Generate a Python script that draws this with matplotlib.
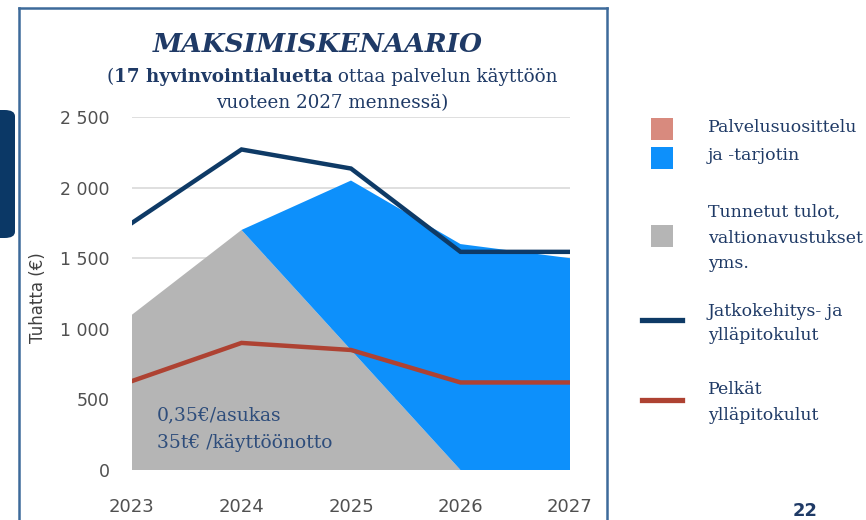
import matplotlib
matplotlib.use("Agg")
import matplotlib.pyplot as plt
from matplotlib.patches import FancyBboxPatch, Rectangle
from matplotlib.lines import Line2D

# ---- data ----
years = [2023, 2024, 2025, 2026, 2027]
tunnetut_tulot = [1100, 1700, 850, 0, 0]        # gray area
palvelusuosittelu = [0, 0, 0, 0, 0]             # salmon (not visible)
tarjotin = [0, 0, 1200, 1600, 1500]             # blue area (stacked)
jatkokehitys = [1750, 2270, 2135, 1545, 1545]   # navy line
pelkat_yllapito = [630, 900, 850, 620, 620]     # red line
y_ticks = [0, 500, 1000, 1500, 2000, 2500]
y_tick_labels = ["0", "500", "1 000", "1 500", "2 000", "2 500"]
x_tick_labels = ["2023", "2024", "2025", "2026", "2027"]

W, H = 866, 520
fig = plt.figure(figsize=(W / 100, H / 100), dpi=100)

def fx(px):
    return px / W

def fy(py):
    return 1 - py / H

NAVY = "#0e3a66"
TEXT_NAVY = "#1f3a66"
GRAY = "#b5b5b5"
BLUE = "#0d90fb"
SALMON = "#d88a7e"
RED = "#ae4232"
TICK_COL = "#505050"

# axes
ax = fig.add_axes([fx(132), fy(470), fx(570) - fx(132), fy(117) - fy(470)])
ax.stackplot(years, tunnetut_tulot, palvelusuosittelu, tarjotin,
             colors=[GRAY, SALMON, BLUE], linewidth=0, zorder=2)
ax.plot(years, pelkat_yllapito, color=RED, lw=3.2, zorder=3, solid_joinstyle="miter")
ax.plot(years, jatkokehitys, color=NAVY, lw=3.2, zorder=4, solid_joinstyle="miter")
ax.set_xlim(years[0], years[-1])
ax.set_ylim(0, 2500)
ax.set_yticks(y_ticks)
ax.set_yticklabels(y_tick_labels)
ax.set_xticks(years)
ax.set_xticklabels(x_tick_labels)
ax.yaxis.grid(True, color="#dcdcdc", lw=1.3, zorder=0)
ax.set_axisbelow(True)
for s in ax.spines.values():
    s.set_visible(False)
ax.tick_params(axis="y", length=0, pad=16, labelsize=12.5, labelcolor=TICK_COL)
ax.tick_params(axis="x", length=0, pad=20, labelsize=13, labelcolor=TICK_COL)
ax.patch.set_alpha(0)

fig.text(fx(38), fy(298), "Tuhatta (€)", rotation=90, ha="center", va="center",
         fontsize=12, color="#404040")

# annotation inside plot
ax.text(fx(157), fy(415), "0,35€/asukas", transform=fig.transFigure, ha="left",
        va="center", fontsize=13.5, color="#2e4d7b", family="DejaVu Serif", zorder=5)
ax.text(fx(157), fy(443), "35t€ /käyttöönotto", transform=fig.transFigure, ha="left",
        va="center", fontsize=13.5, color="#2e4d7b", family="DejaVu Serif", zorder=5)

# frame
frame_col = "#3d6a9a"
fig.add_artist(Line2D([fx(19), fx(19)], [fy(8), fy(525)], color=frame_col, lw=1.8))
fig.add_artist(Line2D([fx(607), fx(607)], [fy(8), fy(525)], color=frame_col, lw=1.8))
fig.add_artist(Line2D([fx(19), fx(607)], [fy(8), fy(8)], color=frame_col, lw=1.8))

# left dark tab
tab = FancyBboxPatch((fx(-30), fy(238)), fx(45), fy(110) - fy(238),
                     boxstyle="round,pad=0,rounding_size=0.012",
                     transform=fig.transFigure, color="#0b3866", lw=0)
fig.add_artist(tab)

# title
fig.text(fx(318), fy(45), "MAKSIMISKENAARIO", ha="center", va="center",
         fontsize=19, fontweight="bold", fontstyle="italic", family="DejaVu Serif",
         color=TEXT_NAVY)

# subtitle with bold part
SUB_FS = 13.2
fig.canvas.draw()
renderer = fig.canvas.get_renderer()
parts = [("(", "normal"), ("17 hyvinvointialuetta", "bold"),
         (" ottaa palvelun käyttöön", "normal")]
tmp = []
for t, w in parts:
    tt = fig.text(0, 0, t, fontsize=SUB_FS, fontweight=w, family="DejaVu Serif")
    tmp.append(tt)
widths = [tt.get_window_extent(renderer).width for tt in tmp]
for tt in tmp:
    tt.remove()
total = sum(widths)
x0 = 332 - total / 2
for (t, w), wd in zip(parts, widths):
    fig.text(fx(x0), fy(77), t, fontsize=SUB_FS, fontweight=w, family="DejaVu Serif",
             color=TEXT_NAVY, ha="left", va="center")
    x0 += wd
fig.text(fx(332), fy(103), "vuoteen 2027 mennessä)", fontsize=SUB_FS, family="DejaVu Serif",
         color=TEXT_NAVY, ha="center", va="center")

# legend
def square(x, y, col):
    fig.add_artist(Rectangle((fx(x), fy(y + 22)), fx(22), fy(y) - fy(y + 22),
                             transform=fig.transFigure, color=col, lw=0))

square(651, 118, SALMON)
square(651, 147, BLUE)
square(651, 225, GRAY)
fig.add_artist(Line2D([fx(642), fx(682)], [fy(320), fy(320)], color=NAVY, lw=3.8))
fig.add_artist(Line2D([fx(642), fx(682)], [fy(400), fy(400)], color=RED, lw=3.8))

leg_lines = [("Palvelusuosittelu", 128), ("ja -tarjotin", 155),
             ("Tunnetut tulot,", 212), ("valtionavustukset", 239), ("yms.", 263),
             ("Jatkokehitys- ja", 311), ("ylläpitokulut", 336),
             ("Pelkät", 389), ("ylläpitokulut", 415)]
for t, y in leg_lines:
    fig.text(fx(708), fy(y), t, fontsize=12.5, family="DejaVu Serif", color=TEXT_NAVY,
             ha="left", va="center")

# page number
fig.text(fx(793), fy(502), "22", fontsize=13, fontweight="bold", color="#1f3a66",
         ha="left", va="top")

fig.savefig("out.png", dpi=100)
